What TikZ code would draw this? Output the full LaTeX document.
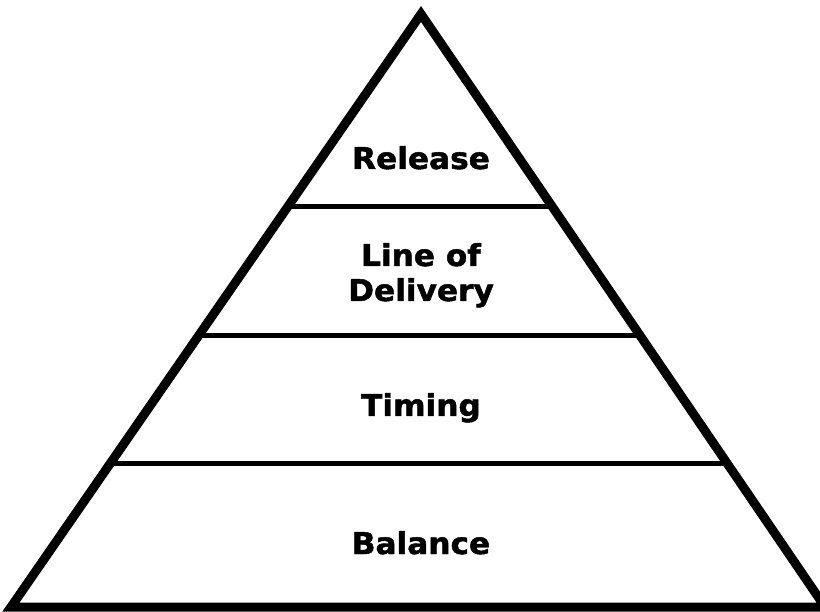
\documentclass[tikz,border=0pt]{standalone}
\usepackage{fontspec}
\usetikzlibrary{calc}
\newfontfamily\pyrfont{DejaVu Sans Bold}[FakeStretch=1.04,FakeBold=1.6]
\begin{document}
\begin{tikzpicture}[x=1pt,y=-1pt,
  edge/.style={line width=9pt,line join=miter,miter limit=10},
  divider/.style={line width=5pt},
  label/.style={anchor=base,inner sep=0pt,font=\pyrfont\fontsize{30}{35}\selectfont,text=black}]
\useasboundingbox (0,0) rectangle (820,612);
\clip (0,0) rectangle (820,612);
\fill[white] (0,0) rectangle (820,612);
\coordinate (apex) at (421,14);
\coordinate (bl) at (11,607);
\coordinate (br) at (825,607);
% dividers (fractions of the way from apex to base)
\coordinate (a1) at ($(apex)!0.32546!(bl)$);
\coordinate (b1) at ($(apex)!0.32546!(br)$);
\coordinate (a2) at ($(apex)!0.54300!(bl)$);
\coordinate (b2) at ($(apex)!0.54300!(br)$);
\coordinate (a3) at ($(apex)!0.75885!(bl)$);
\coordinate (b3) at ($(apex)!0.75885!(br)$);
\draw[divider] (a1) -- (b1);
\draw[divider] (a2) -- (b2);
\draw[divider] (a3) -- (b3);
\draw[edge] (apex) -- (bl) -- (br) -- cycle;
\node[label] (release) at (421,169) {Release};
\node[label] (lineof) at (421,266) {Line of};
\node[label] (delivery) at (421,301) {Delivery};
\node[label] (timing) at (421,416) {Timing};
\node[label] (balance) at (421,554) {Balance};
\end{tikzpicture}
\end{document}
